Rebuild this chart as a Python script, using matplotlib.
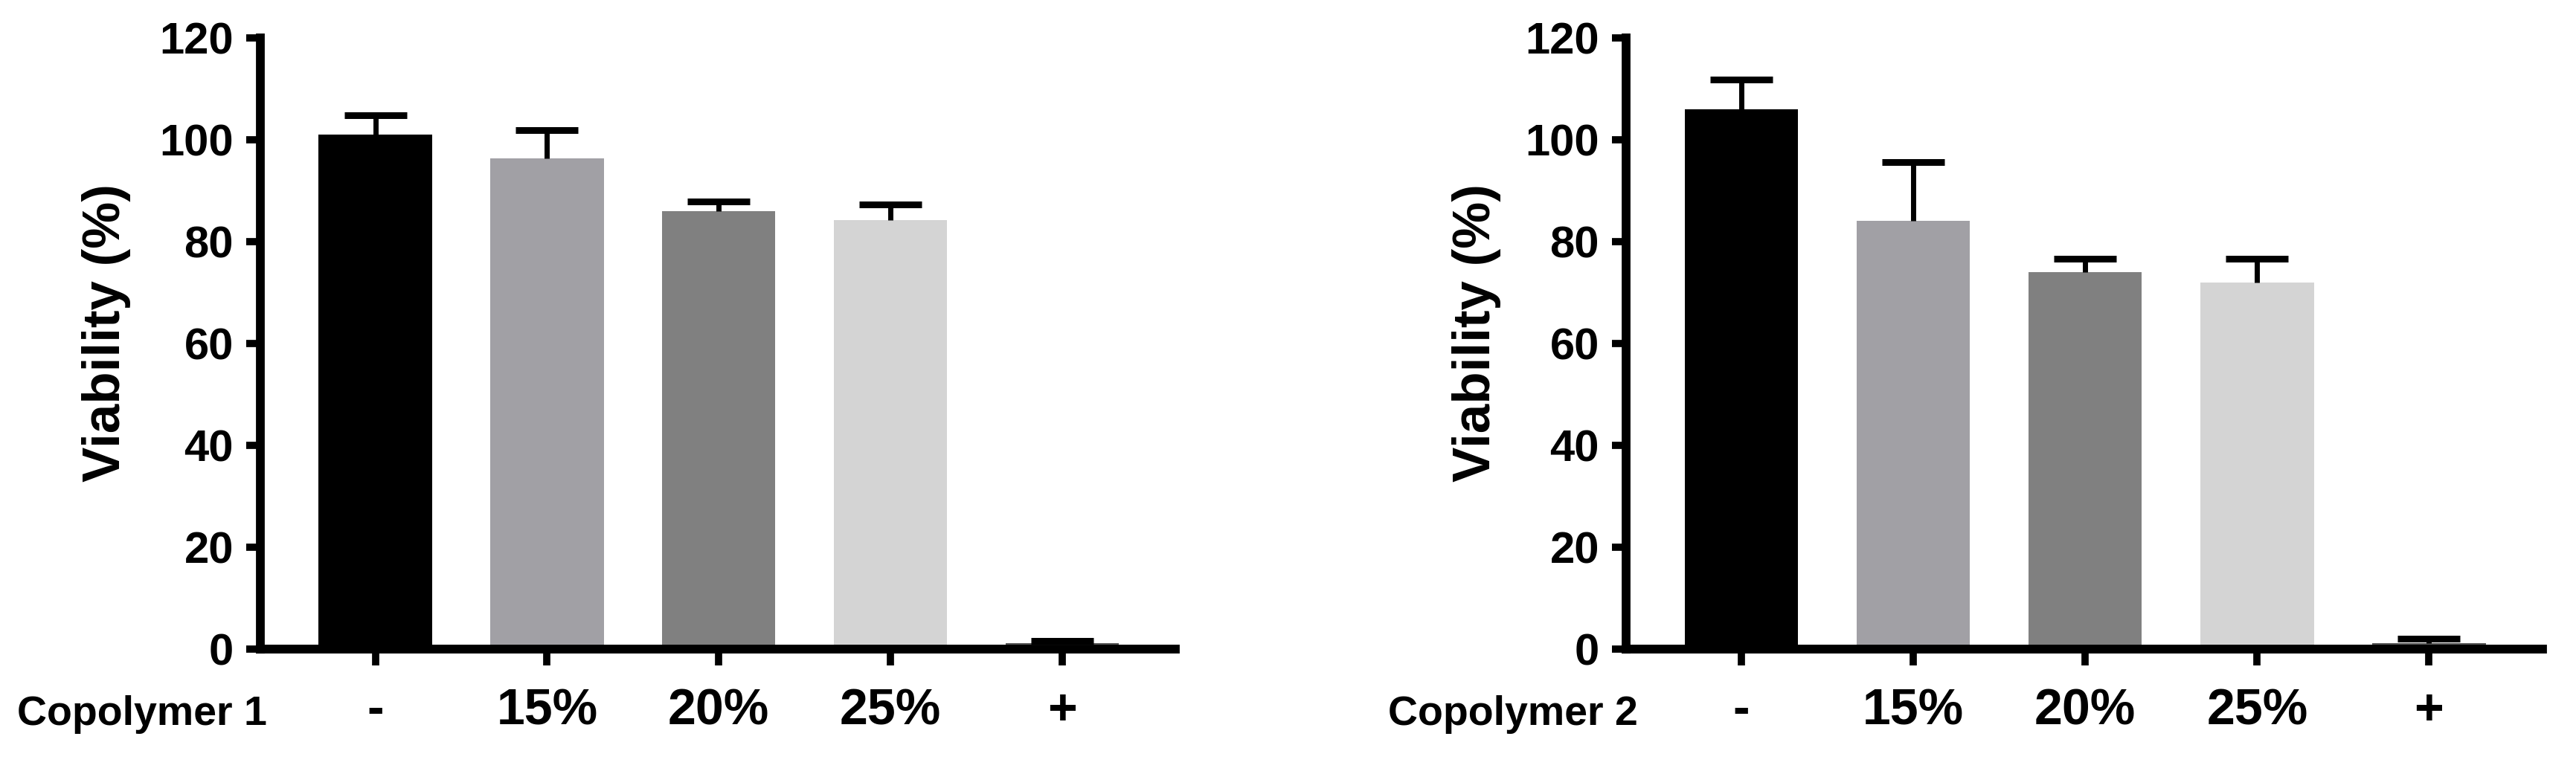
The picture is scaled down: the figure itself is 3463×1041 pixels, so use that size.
import matplotlib
matplotlib.use("Agg")
import matplotlib.pyplot as plt
import numpy as np

plt.rcParams['font.family'] = ['Liberation Sans', 'DejaVu Sans']
plt.rcParams['font.weight'] = 'bold'

categories = ['-', '15%', '20%', '25%', '+']
copolymer1_mean = [101.0, 96.3, 86.0, 84.2, 1.1]
copolymer1_err = [3.8, 5.6, 1.9, 3.1, 0.5]
copolymer2_mean = [106.0, 84.1, 74.0, 72.0, 1.2]
copolymer2_err = [5.8, 11.5, 2.6, 4.6, 0.8]
panel_names = ['Copolymer 1', 'Copolymer 2']
bar_colors = ['#000000', '#a1a0a5', '#808080', '#d4d4d4', '#555555']
yticks = [0, 20, 40, 60, 80, 100, 120]
ylabel = 'Viability (%)'

fig = plt.figure(figsize=(34.63, 10.41), dpi=100)
W, H = 3463.0, 1041.0
ax_left_px = [350, 2186]
ax_right_px = [1580, 3418]
y0_px, y120_px = 873, 51
label_x = [-0.168, -0.163]
name_x_px = [23, 1866]

for i, (means, errs) in enumerate([(copolymer1_mean, copolymer1_err),
                                   (copolymer2_mean, copolymer2_err)]):
    l = ax_left_px[i] / W
    w = (ax_right_px[i] - ax_left_px[i]) / W
    b = 1 - y0_px / H
    h = (y0_px - y120_px) / H
    ax = fig.add_axes([l, b, w, h])
    x = np.arange(len(categories))
    ax.bar(x, means, width=0.66, color=bar_colors, edgecolor='none', zorder=2)
    eb = ax.errorbar(x, means, yerr=[np.zeros(len(errs)), errs], fmt='none',
                     ecolor='black', elinewidth=5, capsize=30, capthick=6.5,
                     zorder=3)
    # keep only the upper caps
    eb[1][0].remove()
    ax.set_xlim(-0.67, 4.66)
    ax.set_ylim(0, 120)
    ax.set_yticks(yticks)
    ax.set_xticks(x)
    ax.set_xticklabels(categories, fontsize=49, fontweight='bold')
    ax.set_yticklabels([str(t) for t in yticks], fontsize=43, fontweight='bold')
    for s in ['top', 'right']:
        ax.spines[s].set_visible(False)
    for s in ['left', 'bottom']:
        ax.spines[s].set_linewidth(8.5)
        ax.spines[s].set_zorder(4)
        ax.spines[s].set_capstyle('projecting')
    ax.tick_params(axis='y', length=14, width=7, pad=12, direction='out')
    ax.tick_params(axis='x', length=16, width=7, pad=21, direction='out')
    ax.text(label_x[i], 0.518, ylabel, transform=ax.transAxes, rotation=90,
            ha='center', va='center', fontsize=51, fontweight='bold')
    fig.text(name_x_px[i] / W, 1 - 975 / H, panel_names[i], ha='left',
             va='baseline', fontsize=40, fontweight='bold')

fig.savefig('out.png', dpi=100, facecolor='white')
